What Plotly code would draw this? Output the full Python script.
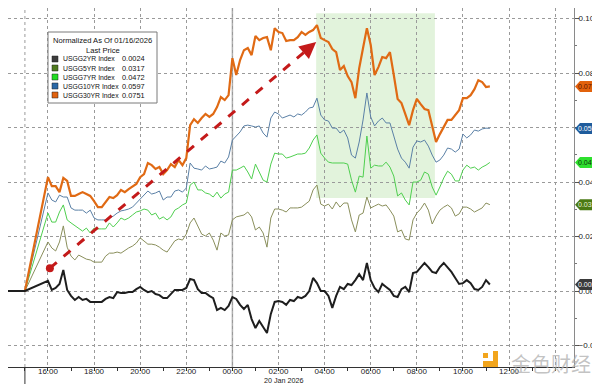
import pandas as pd
import plotly.graph_objects as go

# ---------------- data ----------------
lead_times = ["2026-01-19 13:50", "2026-01-19 15:00"]
grid_start = "2026-01-19 16:00"
grid_points = 116  # 10-minute bars, 16:00 -> 11:10

usgg30 = [0.0418, 0.0385, 0.0385, 0.0363, 0.0415, 0.0404, 0.0349, 0.0349, 0.0356, 0.0363,
          0.0356, 0.0349, 0.0330, 0.0308, 0.0308, 0.0327, 0.0345, 0.0341, 0.0352, 0.0371,
          0.0363, 0.0374, 0.0382, 0.0393, 0.0418, 0.0429, 0.0470, 0.0462, 0.0448, 0.0455,
          0.0429, 0.0444, 0.0466, 0.0455, 0.0481, 0.0462, 0.0488, 0.0609, 0.0631, 0.0617,
          0.0635, 0.0650, 0.0639, 0.0650, 0.0675, 0.0712, 0.0701, 0.0719, 0.0855, 0.0793,
          0.0848, 0.0884, 0.0892, 0.0866, 0.0936, 0.0921, 0.0929, 0.0932, 0.0884, 0.0965,
          0.0951, 0.0947, 0.0918, 0.0921, 0.0921, 0.0932, 0.0951, 0.0940, 0.0951, 0.0958,
          0.0976, 0.0929, 0.0921, 0.0914, 0.0888, 0.0877, 0.0811, 0.0826, 0.0789, 0.0767,
          0.0708, 0.0818, 0.0892, 0.0965, 0.0903, 0.0793, 0.0822, 0.0859, 0.0855, 0.0877,
          0.0793, 0.0705, 0.0690, 0.0653, 0.0609, 0.0664, 0.0705, 0.0686, 0.0668, 0.0664,
          0.0609, 0.0547, 0.0576, 0.0602, 0.0628, 0.0628, 0.0646, 0.0664, 0.0708, 0.0708,
          0.0719, 0.0741, 0.0774, 0.0767, 0.0749, 0.0751]

usgg10 = [0.0360, 0.0334, 0.0327, 0.0352, 0.0345, 0.0345, 0.0305, 0.0297, 0.0297, 0.0297,
          0.0286, 0.0297, 0.0268, 0.0261, 0.0261, 0.0261, 0.0268, 0.0275, 0.0286, 0.0294,
          0.0297, 0.0301, 0.0308, 0.0323, 0.0334, 0.0352, 0.0367, 0.0356, 0.0360, 0.0367,
          0.0334, 0.0345, 0.0345, 0.0367, 0.0371, 0.0363, 0.0378, 0.0470, 0.0451, 0.0448,
          0.0444, 0.0459, 0.0448, 0.0451, 0.0455, 0.0477, 0.0470, 0.0492, 0.0554, 0.0569,
          0.0584, 0.0606, 0.0609, 0.0606, 0.0602, 0.0606, 0.0580, 0.0565, 0.0635, 0.0657,
          0.0650, 0.0635, 0.0642, 0.0646, 0.0639, 0.0650, 0.0646, 0.0657, 0.0672, 0.0675,
          0.0708, 0.0646, 0.0628, 0.0624, 0.0598, 0.0598, 0.0580, 0.0591, 0.0562, 0.0499,
          0.0488, 0.0547, 0.0628, 0.0727, 0.0639, 0.0606, 0.0624, 0.0635, 0.0617, 0.0617,
          0.0569, 0.0521, 0.0488, 0.0473, 0.0451, 0.0528, 0.0551, 0.0547, 0.0554, 0.0532,
          0.0499, 0.0473, 0.0481, 0.0499, 0.0525, 0.0521, 0.0510, 0.0521, 0.0576, 0.0562,
          0.0573, 0.0591, 0.0587, 0.0595, 0.0598, 0.0597]

usgg7 = [0.0286, 0.0253, 0.0253, 0.0290, 0.0316, 0.0261, 0.0250, 0.0239, 0.0231, 0.0220,
         0.0231, 0.0213, 0.0231, 0.0228, 0.0228, 0.0228, 0.0250, 0.0235, 0.0250, 0.0268,
         0.0261, 0.0268, 0.0279, 0.0290, 0.0294, 0.0301, 0.0297, 0.0279, 0.0286, 0.0264,
         0.0272, 0.0261, 0.0272, 0.0297, 0.0305, 0.0316, 0.0323, 0.0389, 0.0400, 0.0371,
         0.0371, 0.0360, 0.0356, 0.0345, 0.0363, 0.0341, 0.0356, 0.0363, 0.0444, 0.0444,
         0.0451, 0.0459, 0.0437, 0.0411, 0.0466, 0.0437, 0.0407, 0.0400, 0.0466, 0.0506,
         0.0503, 0.0503, 0.0488, 0.0492, 0.0499, 0.0503, 0.0503, 0.0506, 0.0525, 0.0554,
         0.0573, 0.0506, 0.0488, 0.0473, 0.0470, 0.0470, 0.0470, 0.0470, 0.0466, 0.0407,
         0.0363, 0.0422, 0.0418, 0.0569, 0.0451, 0.0462, 0.0459, 0.0459, 0.0473, 0.0455,
         0.0422, 0.0349, 0.0360, 0.0334, 0.0316, 0.0400, 0.0400, 0.0407, 0.0437, 0.0429,
         0.0382, 0.0352, 0.0382, 0.0415, 0.0440, 0.0429, 0.0404, 0.0404, 0.0444, 0.0462,
         0.0451, 0.0455, 0.0444, 0.0455, 0.0462, 0.0472]

usgg5 = [0.0180, 0.0158, 0.0147, 0.0180, 0.0239, 0.0161, 0.0128, 0.0114, 0.0132, 0.0125,
         0.0117, 0.0114, 0.0106, 0.0106, 0.0106, 0.0128, 0.0139, 0.0139, 0.0143, 0.0139,
         0.0150, 0.0158, 0.0165, 0.0176, 0.0195, 0.0184, 0.0172, 0.0172, 0.0169, 0.0161,
         0.0150, 0.0143, 0.0165, 0.0184, 0.0191, 0.0187, 0.0209, 0.0250, 0.0268, 0.0239,
         0.0209, 0.0202, 0.0213, 0.0187, 0.0150, 0.0213, 0.0202, 0.0206, 0.0261, 0.0272,
         0.0275, 0.0279, 0.0290, 0.0272, 0.0224, 0.0235, 0.0213, 0.0161, 0.0268, 0.0301,
         0.0301, 0.0297, 0.0290, 0.0305, 0.0305, 0.0305, 0.0308, 0.0319, 0.0330, 0.0371,
         0.0389, 0.0319, 0.0312, 0.0319, 0.0301, 0.0327, 0.0308, 0.0323, 0.0323, 0.0261,
         0.0217, 0.0279, 0.0286, 0.0345, 0.0305, 0.0312, 0.0319, 0.0312, 0.0316, 0.0297,
         0.0275, 0.0217, 0.0224, 0.0191, 0.0187, 0.0261, 0.0286, 0.0301, 0.0323, 0.0297,
         0.0246, 0.0275, 0.0297, 0.0308, 0.0316, 0.0305, 0.0275, 0.0283, 0.0308, 0.0308,
         0.0301, 0.0290, 0.0297, 0.0305, 0.0323, 0.0317]

usgg2 = [0.0037, 0.0004, 0.0011, 0.0026, 0.0077, 0.0004, -0.0018, -0.0033, -0.0022, -0.0033,
         -0.0029, -0.0040, -0.0040, -0.0040, -0.0040, -0.0029, -0.0022, -0.0026, -0.0004, -0.0007,
         -0.0007, -0.0004, -0.0004, 0.0007, 0.0015, 0.0004, -0.0004, 0.0000, -0.0011, -0.0015,
         -0.0026, -0.0026, -0.0011, 0.0004, 0.0004, 0.0004, 0.0011, 0.0044, 0.0040, 0.0007,
         -0.0007, -0.0007, -0.0018, -0.0026, -0.0070, -0.0062, -0.0070, -0.0055, -0.0022, -0.0029,
         -0.0051, -0.0066, -0.0051, -0.0103, -0.0136, -0.0110, -0.0132, -0.0154, -0.0084, -0.0040,
         -0.0037, -0.0040, -0.0051, -0.0033, -0.0037, -0.0022, -0.0026, -0.0018, 0.0000, 0.0048,
         0.0029, 0.0000, 0.0000, -0.0018, -0.0062, -0.0018, 0.0015, 0.0007, 0.0026, 0.0022,
         0.0040, 0.0062, 0.0040, 0.0103, 0.0040, 0.0011, -0.0004, 0.0026, 0.0015, 0.0004,
         -0.0018, -0.0022, 0.0007, 0.0015, -0.0004, 0.0066, 0.0070, 0.0088, 0.0103, 0.0088,
         0.0070, 0.0066, 0.0088, 0.0103, 0.0088, 0.0070, 0.0048, 0.0026, 0.0029, 0.0040,
         0.0029, 0.0007, 0.0004, 0.0015, 0.0040, 0.0024]

lead_values = [0.0, 0.0]

series_names = ["USGG2YR Index", "USGG5YR Index", "USGG7YR Index", "USGG10YR Index", "USGG30YR Index"]
last_prices = [0.0024, 0.0317, 0.0472, 0.0597, 0.0751]
legend_title = ["Normalized As Of 01/16/2026", "Last Price"]
date_label = "20 Jan 2026"

x_tick_times = ["2026-01-19 16:00", "2026-01-19 18:00", "2026-01-19 20:00", "2026-01-19 22:00",
                "2026-01-20 00:00", "2026-01-20 02:00", "2026-01-20 04:00", "2026-01-20 06:00",
                "2026-01-20 08:00", "2026-01-20 10:00", "2026-01-20 12:00", "2026-01-20 14:00"]
x_tick_labels = ["16:00", "18:00", "20:00", "22:00", "00:00", "02:00", "04:00", "06:00",
                 "08:00", "10:00", "12:00", ""]

# ---------------- styling ----------------
line_colors = ["#1e1e1e", "#8a8f5c", "#4fcf4f", "#5a80a6", "#e06a14"]
line_widths = [2.0, 1.0, 1.0, 1.0, 2.2]
legend_colors = ["#3c3c3c", "#4e7a1e", "#22dd22", "#2a68a6", "#e0620e"]
tag_colors = ["#3a3a3a", "#4a7a14", "#2ee02e", "#1f5c9c", "#e2620c"]
tag_text_colors = ["#ffffff", "#e8f0d8", "#0a300a", "#ffffff", "#5a1500"]

# the page body has an 8px margin, so the figure is laid out 8px up/left of the reference pixels
OFF = 8
FIG_W, FIG_H = 600 - OFF, 384 - OFF
PLOT_W, PLOT_H = 574 - OFF, 367 - OFF
X_START, X_END = "2026-01-19 14:16", "2026-01-20 14:49"
Y_MIN, Y_MAX = -0.0279, 0.1039
FONT = "Liberation Sans"

times = pd.to_datetime(lead_times).append(pd.date_range(grid_start, periods=grid_points, freq="10min"))
values = {
    "USGG2YR Index": lead_values + usgg2,
    "USGG5YR Index": lead_values + usgg5,
    "USGG7YR Index": lead_values + usgg7,
    "USGG10YR Index": lead_values + usgg10,
    "USGG30YR Index": lead_values + usgg30,
}


def P(px, py):
    """reference-image pixel -> paper coords of the plot area"""
    return (px - OFF) / PLOT_W, 1 - (py - OFF) / PLOT_H


fig = go.Figure()

draw_order = [1, 2, 3, 4, 0]
for i in draw_order:
    name = series_names[i]
    fig.add_trace(go.Scatter(
        x=times, y=values[name], mode="lines", name=name,
        line=dict(color=line_colors[i], width=line_widths[i]),
        showlegend=False, hoverinfo="skip"))

shapes = []
annotations = []

# highlighted window
shapes.append(dict(type="rect", xref="x", yref="y",
                   x0="2026-01-20 03:38", x1="2026-01-20 08:47", y0=0.0341, y1=0.1020,
                   fillcolor="rgba(160,215,140,0.30)", line=dict(width=0), layer="below"))

# extra vertical markers: session start (dotted) and day change (solid)
shapes.append(dict(type="line", xref="x", yref="paper", x0="2026-01-19 15:00", x1="2026-01-19 15:00",
                   y0=0, y1=1, line=dict(color="#9a9a9a", width=1, dash="dot"), layer="below"))
shapes.append(dict(type="line", xref="x", yref="paper", x0="2026-01-19 15:00", x1="2026-01-19 15:00",
                   y0=P(0, 384)[1], y1=0, line=dict(color="#333", width=1), layer="above"))
shapes.append(dict(type="line", xref="x", yref="paper", x0="2026-01-20 00:00", x1="2026-01-20 00:00",
                   y0=0, y1=1, line=dict(color="#b0b0b0", width=1.5), layer="below"))

# red dashed trend arrow
arrow_start = (pd.Timestamp("2026-01-19 16:05"), 0.0084)
arrow_end = (pd.Timestamp("2026-01-20 03:38"), 0.0914)
frac = 0.955
head_base_t = arrow_start[0] + (arrow_end[0] - arrow_start[0]) * frac
head_base_v = arrow_start[1] + (arrow_end[1] - arrow_start[1]) * frac
shapes.append(dict(type="line", xref="x", yref="y",
                   x0=arrow_start[0], y0=arrow_start[1], x1=head_base_t, y1=head_base_v,
                   line=dict(color="#c41a1a", width=3, dash="dash"), layer="above"))
annotations.append(dict(x=arrow_end[0], y=arrow_end[1], xref="x", yref="y",
                        ax=head_base_t, ay=head_base_v, axref="x", ayref="y",
                        text="", showarrow=True, arrowhead=2, arrowsize=1.1,
                        arrowwidth=3, arrowcolor="#c41a1a"))
fig.add_trace(go.Scatter(x=[arrow_start[0]], y=[arrow_start[1]], mode="markers",
                         marker=dict(color="#c41a1a", size=8), showlegend=False, hoverinfo="skip"))

# legend box
bx0, by1 = P(48, 32)
bx1, by0 = P(157, 103)
shapes.append(dict(type="rect", xref="paper", yref="paper", x0=bx0, x1=bx1, y0=by0, y1=by1,
                   fillcolor="white", line=dict(color="#7a7a7a", width=1), layer="above"))
for txt, py in zip(legend_title, [41, 50]):
    xp, yp = P(102.5, py)
    annotations.append(dict(x=xp, y=yp, xref="paper", yref="paper", text=txt, showarrow=False,
                            xanchor="center", yanchor="middle",
                            font=dict(family=FONT, size=7.6, color="#111")))
row_py = [59, 68, 77, 86, 95]
for i in range(5):
    py = row_py[i]
    sx0, sy1 = P(52, py - 3)
    sx1, sy0 = P(58, py + 3)
    shapes.append(dict(type="rect", xref="paper", yref="paper", x0=sx0, x1=sx1, y0=sy0, y1=sy1,
                       fillcolor=legend_colors[i], line=dict(color="#222", width=0.5), layer="above"))
    nx, ny = P(61, py)
    annotations.append(dict(x=nx, y=ny, xref="paper", yref="paper", text=series_names[i],
                            showarrow=False, xanchor="left", yanchor="middle",
                            font=dict(family=FONT, size=6.8, color="#111")))
    vx, vy = P(120, py)
    annotations.append(dict(x=vx, y=vy, xref="paper", yref="paper", text=f"{last_prices[i]:.4f}",
                            showarrow=False, xanchor="left", yanchor="middle",
                            font=dict(family=FONT, size=7.4, color="#111")))

# right-hand last-value tags
val_per_px = (Y_MAX - Y_MIN) / PLOT_H
half = 5.5 * val_per_px
xa = P(575, 0)[0]
xb = P(580, 0)[0]
xc = P(612, 0)[0]
for i in range(5):
    v = last_prices[i]
    path = (f"M {xa},{v} L {xb},{v + half} L {xc},{v + half} "
            f"L {xc},{v - half} L {xb},{v - half} Z")
    shapes.append(dict(type="path", xref="paper", yref="y", path=path,
                       fillcolor=tag_colors[i], line=dict(width=0), layer="above"))
    annotations.append(dict(x=P(577, 0)[0], y=v, xref="paper", yref="y", text=f"{v:.4f}",
                            showarrow=False, xanchor="left", yanchor="middle", borderpad=0,
                            font=dict(family=FONT, size=7, color=tag_text_colors[i])))

# date label under the axis
annotations.append(dict(x="2026-01-20 02:15", y=P(0, 380.5)[1], xref="x", yref="paper",
                        text=date_label, showarrow=False, xanchor="center", yanchor="middle",
                        borderpad=0, font=dict(family=FONT, size=7.2, color="#222")))

# watermark
for (ax0, ay0, ax1, ay1) in [(483, 353, 488, 358), (493, 351, 498, 367), (483, 361, 498, 367)]:
    x0p, y1p = P(ax0, ay0)
    x1p, y0p = P(ax1, ay1)
    shapes.append(dict(type="rect", xref="paper", yref="paper", x0=x0p, x1=x1p, y0=y0p, y1=y1p,
                       fillcolor="#f2a51c", line=dict(width=0), layer="above"))
wx, wy = P(551, 363)
annotations.append(dict(x=wx, y=wy, xref="paper", yref="paper", text="金色财经", showarrow=False,
                        xanchor="center", yanchor="middle",
                        font=dict(family="Noto Sans CJK SC", size=20, color="rgba(175,175,175,0.75)")))

fig.update_layout(
    width=FIG_W, height=FIG_H,
    margin=dict(l=0, r=FIG_W - PLOT_W, t=0, b=FIG_H - PLOT_H),
    paper_bgcolor="white", plot_bgcolor="white",
    showlegend=False,
    font=dict(family=FONT, size=8, color="#222"),
    shapes=shapes, annotations=annotations,
    xaxis=dict(type="date", range=[X_START, X_END],
               tickmode="array", tickvals=pd.to_datetime(x_tick_times), ticktext=x_tick_labels,
               showgrid=True, gridcolor="#9a9a9a", griddash="dot", gridwidth=1,
               showline=True, linecolor="#333", linewidth=1,
               ticks="outside", ticklen=2, tickcolor="#333", ticklabelstandoff=-6,
               tickfont=dict(family=FONT, size=8, color="#222"),
               zeroline=False,
               minor=dict(dtick=3600 * 1000, ticks="outside", ticklen=3, tickcolor="#333", showgrid=False)),
    yaxis=dict(side="right", range=[Y_MIN, Y_MAX], tick0=0, dtick=0.02, tickformat=".2f",
               showgrid=True, gridcolor="#9a9a9a", griddash="dot", gridwidth=1,
               showline=True, linecolor="#8a8a8a", linewidth=1,
               ticks="outside", ticklen=4, tickcolor="#555", ticklabelstandoff=-2,
               tickfont=dict(family=FONT, size=8, color="#222"),
               zeroline=False,
               minor=dict(dtick=0.01, ticks="outside", ticklen=2, tickcolor="#777", showgrid=False)),
)

fig.write_html("out.html")
